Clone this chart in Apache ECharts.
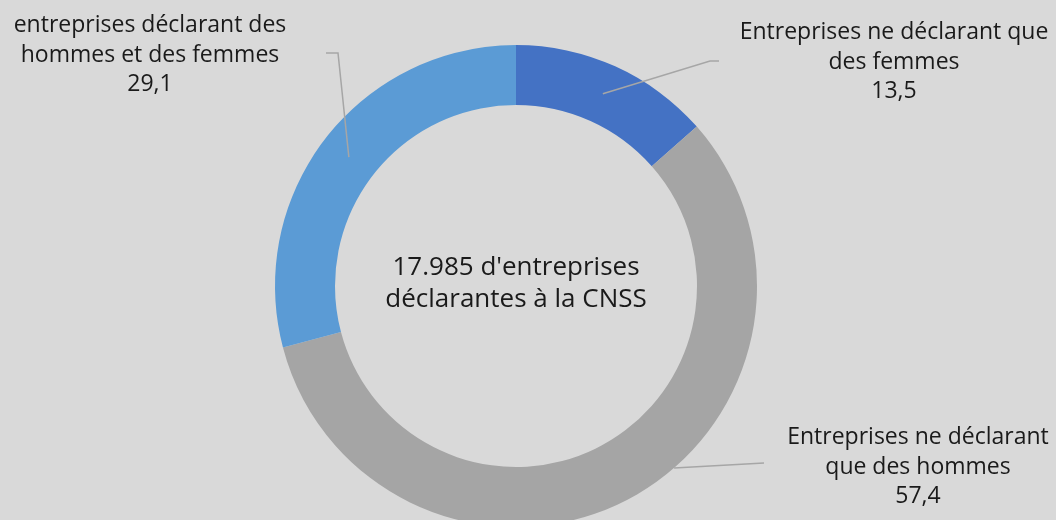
<!DOCTYPE html>
<html><head><meta charset="utf-8">
<script src="https://cdn.jsdelivr.net/npm/echarts@6/dist/echarts.min.js"></script>
<style>html,body{margin:0;padding:0;background:#D9D9D9}#c{width:1056px;height:520px}</style>
</head><body><div id="c"></div>
<script>
// ---- data ----
const categories = [
  "Entreprises ne déclarant que\ndes femmes",
  "Entreprises ne déclarant\nque des hommes",
  "entreprises déclarant des\nhommes et des femmes"
];
const values = [13.5, 57.4, 29.1];
const centerText = "17.985 d'entreprises\ndéclarantes à la CNSS";

// ---- style / layout ----
const colors = ['#4472C4', '#A5A5A5', '#5B9BD5'];
const CX = 516, CY = 286, R0 = 181, R1 = 241;
const FONT = '"Open Sans"';
const labelCfg = [
  { x: 894, y: 62, r: (R0 + R1) / 2, angle: null, bend: [[710, 61], [719, 61]] },
  { x: 918, y: 467, r: R1, angle: 139, bend: [[764, 463]] },
  { x: 150, y: 55, r: (R0 + R1) / 2, angle: null, bend: [[338, 53], [326, 53]] }
];

const total = values.reduce((a, b) => a + b, 0);
const midAngles = [];
let cum = 0;
values.forEach(v => { midAngles.push((cum + v / 2) / total * 360); cum += v; });

function anchor(i) {
  const c = labelCfg[i];
  const a = (c.angle != null ? c.angle : midAngles[i]) * Math.PI / 180;
  return [CX + c.r * Math.sin(a), CY - c.r * Math.cos(a)];
}

const leaderLines = labelCfg.map((c, i) => ({
  type: 'polyline', z: 100,
  shape: { points: [anchor(i)].concat(c.bend) },
  style: { stroke: '#A6A6A6', lineWidth: 1.5, fill: null }
}));

const chart = echarts.init(document.getElementById('c'), null, { renderer: 'canvas' });
chart.setOption({
  backgroundColor: '#D9D9D9',
  animation: false,
  graphic: [{
    type: 'text', z: 100,
    x: CX, y: CY - 2,
    style: {
      text: centerText, x: 0, y: 0, align: 'center', verticalAlign: 'middle',
      font: '26px ' + FONT, fill: '#1A1A1A', lineHeight: 32
    }
  }].concat(leaderLines),
  series: [{
    type: 'pie',
    center: [CX, CY],
    radius: [R0, R1],
    startAngle: 90,
    clockwise: true,
    avoidLabelOverlap: false,
    silent: true,
    data: categories.map((n, i) => ({ name: n, value: values[i], itemStyle: { color: colors[i] } })),
    label: {
      show: true,
      position: 'outside',
      formatter: p => p.name + '\n' + String(p.value).replace('.', ','),
      fontFamily: FONT, fontSize: 23, lineHeight: 29.5, color: '#1A1A1A', align: 'center'
    },
    labelLine: { show: false },
    labelLayout: function (p) {
      const c = labelCfg[p.dataIndex];
      return { x: c.x, y: c.y, align: 'center', verticalAlign: 'middle' };
    }
  }]
});
</script></body></html>
